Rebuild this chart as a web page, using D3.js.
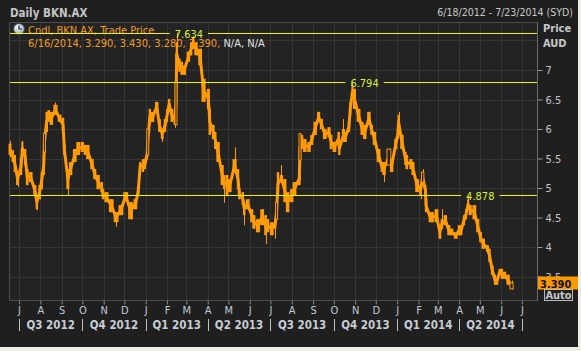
<!DOCTYPE html>
<html>
<head>
<meta charset="utf-8">
<script src="https://cdn.jsdelivr.net/npm/d3@7/dist/d3.min.js"></script>
<style>
  body { margin: 0; background: #efeee6; }
  svg { display: block; }
  text { font-family: "DejaVu Sans Condensed", "DejaVu Sans", sans-serif; }
</style>
</head>
<body>
<div id="chart"></div>
<script>
const dates = ["2012-06-18","2012-06-22","2012-06-25","2012-06-29","2012-07-04","2012-07-06","2012-07-10","2012-07-13","2012-07-18","2012-07-24",
  "2012-07-27","2012-07-31","2012-08-03","2012-08-06","2012-08-07","2012-08-10","2012-08-13","2012-08-17","2012-08-23","2012-08-29",
  "2012-09-03","2012-09-05","2012-09-10","2012-09-14","2012-09-20","2012-09-25","2012-10-01","2012-10-05","2012-10-09","2012-10-15",
  "2012-10-19","2012-10-24","2012-10-29","2012-10-31","2012-11-05","2012-11-12","2012-11-19","2012-11-26","2012-12-03","2012-12-10",
  "2012-12-17","2012-12-21","2012-12-24","2012-12-28","2012-12-31","2013-01-03","2013-01-04","2013-01-07","2013-01-11","2013-01-17",
  "2013-01-21","2013-01-25","2013-01-29","2013-02-01","2013-02-04","2013-02-08","2013-02-12","2013-02-14","2013-02-15","2013-02-19",
  "2013-02-22","2013-02-26","2013-03-04","2013-03-08","2013-03-11","2013-03-15","2013-03-21","2013-03-26","2013-04-02","2013-04-04",
  "2013-04-09","2013-04-12","2013-04-16","2013-04-22","2013-04-25","2013-04-29","2013-05-03","2013-05-10","2013-05-15","2013-05-17",
  "2013-05-22","2013-05-24","2013-05-29","2013-06-04","2013-06-07","2013-06-13","2013-06-19","2013-06-24","2013-06-27","2013-07-03",
  "2013-07-08","2013-07-10","2013-07-12","2013-07-17","2013-07-22","2013-07-26","2013-08-01","2013-08-05","2013-08-12","2013-08-13",
  "2013-08-16","2013-08-20","2013-08-26","2013-08-30","2013-09-04","2013-09-09","2013-09-13","2013-09-18","2013-09-24","2013-09-27",
  "2013-10-02","2013-10-08","2013-10-09","2013-10-15","2013-10-18","2013-10-23","2013-10-25","2013-10-28","2013-10-31","2013-11-06",
  "2013-11-11","2013-11-15","2013-11-21","2013-11-25","2013-11-29","2013-12-05","2013-12-10","2013-12-13","2013-12-20","2013-12-24",
  "2013-12-30","2014-01-02","2014-01-03","2014-01-08","2014-01-13","2014-01-15","2014-01-21","2014-01-24","2014-01-30","2014-02-04",
  "2014-02-07","2014-02-11","2014-02-12","2014-02-18","2014-02-21","2014-02-27","2014-03-04","2014-03-07","2014-03-12","2014-03-17",
  "2014-03-21","2014-03-27","2014-04-01","2014-04-04","2014-04-08","2014-04-11","2014-04-14","2014-04-17","2014-04-23","2014-04-28",
  "2014-05-02","2014-05-06","2014-05-12","2014-05-15","2014-05-19","2014-05-23","2014-05-26","2014-05-30","2014-06-02","2014-06-06",
  "2014-06-11","2014-06-16"];

const opens = [5.75,5.64,5.56,5.27,5.51,5.78,5.66,5.32,5.27,5.05, 4.88,5.05,5.27,5.56,5.61,6.29,6.32,6.29,6.41,6.24,
  6.19,5.73,5.32,5.44,5.66,5.78,5.78,5.73,5.73,5.49, 5.32,5.22,5.10,4.98,4.93,4.81,4.59,4.71,4.93,4.76,
  4.81,4.98,5.44,5.49,5.49,5.66,5.56,6.34,6.29,6.46, 6.17,6.00,6.17,6.34,6.51,6.34,6.24,6.07,7.47,7.19,
  7.14,7.08,7.31,7.47,7.55,7.47,7.36,6.85,6.68,6.34, 6.07,5.95,5.78,5.39,5.22,5.22,5.15,5.49,5.32,4.98,
  4.93,4.76,4.81,4.64,4.54,4.47,4.64,4.54,4.47,4.42, 4.47,4.47,5.27,5.22,5.15,4.93,4.98,5.10,5.27,5.47,
  5.90,5.83,5.78,5.90,6.12,6.29,6.17,6.00,6.03,5.90, 5.78,5.95,5.78,6.00,5.95,6.12,6.46,6.75,6.68,6.34,
  6.12,6.07,6.29,6.07,5.95,5.66,5.44,5.44,5.39,5.49, 5.83,6.00,6.24,5.90,5.61,5.56,5.49,5.44,5.15,5.05,
  5.10,5.05,4.81,4.59,4.59,4.64,4.37,4.47,4.54,4.37, 4.31,4.25,4.37,4.37,4.54,4.64,4.81,4.71,4.71,4.47,
  4.25,4.14,4.03,3.97,3.69,3.53,3.49,3.63,3.63,3.58, 3.53,3.29];

const highs = [5.80,5.64,5.56,5.27,5.51,5.80,5.66,5.32,5.27,5.05, 4.88,5.05,5.27,5.56,5.95,6.29,6.32,6.29,6.45,6.24,
  6.19,5.73,5.32,5.44,5.66,5.78,5.78,5.73,5.73,5.49, 5.32,5.22,5.10,4.98,4.93,4.81,4.59,4.71,4.93,4.76,
  4.81,4.98,5.44,5.49,5.49,5.66,6.00,6.34,6.29,6.46, 6.17,6.00,6.17,6.34,6.51,6.34,6.24,6.80,7.634,7.19,
  7.14,7.08,7.31,7.47,7.58,7.47,7.36,6.85,6.68,6.34, 6.07,5.95,5.78,5.39,5.22,5.22,5.15,5.69,5.32,4.98,
  4.93,4.76,4.81,4.64,4.54,4.47,4.64,4.54,4.47,4.42, 4.47,4.76,5.27,5.39,5.15,4.93,4.98,5.10,5.27,5.92,
  5.90,5.83,5.78,5.90,6.12,6.29,6.17,6.00,6.03,5.90, 5.78,5.95,5.78,6.17,5.95,6.12,6.46,6.794,6.68,6.34,
  6.12,6.07,6.29,6.07,5.95,5.66,5.44,5.44,5.66,5.49, 5.83,6.00,6.29,5.90,5.61,5.56,5.49,5.44,5.15,5.05,
  5.32,5.05,4.81,4.59,4.59,4.64,4.37,4.64,4.54,4.37, 4.31,4.25,4.37,4.37,4.54,4.64,4.878,4.71,4.71,4.47,
  4.25,4.14,4.03,3.97,3.69,3.53,3.49,3.63,3.63,3.58, 3.53,3.43];

const lows = [5.52,5.44,5.27,5.02,5.22,5.56,5.39,5.05,5.10,4.88, 4.62,4.81,4.98,5.22,5.47,5.95,6.12,6.07,6.24,6.12,
  5.95,5.56,4.88,5.22,5.44,5.56,5.61,5.56,5.49,5.32, 5.15,4.98,4.93,4.81,4.76,4.59,4.34,4.54,4.81,4.47,
  4.64,4.88,5.32,5.27,5.32,5.49,5.56,6.07,6.12,6.29, 5.95,5.78,5.95,6.12,6.34,6.12,6.02,6.07,7.08,6.97,
  6.92,6.92,7.14,7.25,7.36,7.25,7.08,6.46,6.34,5.90, 5.83,5.66,5.44,5.05,4.75,4.88,4.93,5.27,4.98,4.81,
  4.71,4.37,4.64,4.42,4.31,4.25,4.37,4.05,4.25,4.20, 4.14,4.47,4.88,5.10,4.76,4.59,4.76,4.88,5.05,5.47,
  5.66,5.61,5.61,5.73,5.90,6.12,6.00,5.83,5.86,5.66, 5.61,5.73,5.56,5.78,5.78,5.95,6.24,6.51,6.34,6.12,
  5.90,5.83,6.07,5.90,5.73,5.44,5.27,5.10,5.39,5.27, 5.66,5.83,6.00,5.66,5.39,5.32,5.32,5.22,4.93,4.81,
  5.10,4.88,4.59,4.42,4.42,4.42,4.14,4.31,4.37,4.20, 4.20,4.14,4.20,4.20,4.37,4.47,4.64,4.54,4.47,4.25,
  4.08,3.97,3.92,3.75,3.53,3.36,3.36,3.53,3.46,3.46, 3.36,3.28];

const closes = [5.56,5.44,5.27,5.05,5.22,5.56,5.39,5.05,5.10,4.88, 4.64,4.81,4.98,5.22,5.93,5.95,6.12,6.07,6.24,6.12,
  5.95,5.56,4.98,5.22,5.44,5.56,5.61,5.56,5.49,5.32, 5.15,4.98,4.93,4.81,4.76,4.59,4.42,4.54,4.81,4.47,
  4.64,4.88,5.32,5.27,5.32,5.49,6.00,6.07,6.12,6.29, 5.95,5.83,5.95,6.12,6.34,6.12,6.07,6.80,7.08,6.97,
  6.92,6.92,7.14,7.25,7.36,7.25,7.08,6.46,6.34,5.90, 5.83,5.66,5.44,5.05,4.98,4.88,4.93,5.27,4.98,4.81,
  4.71,4.54,4.64,4.42,4.31,4.25,4.37,4.20,4.25,4.20, 4.31,4.76,4.88,5.10,4.76,4.59,4.76,4.88,5.05,5.92,
  5.66,5.61,5.61,5.73,5.90,6.12,6.00,5.83,5.86,5.66, 5.61,5.73,5.56,5.78,5.78,5.95,6.24,6.51,6.34,6.12,
  5.90,5.83,6.07,5.90,5.73,5.44,5.27,5.22,5.66,5.27, 5.66,5.83,6.00,5.66,5.39,5.32,5.32,5.22,4.93,4.88,
  5.27,4.88,4.59,4.42,4.42,4.42,4.14,4.31,4.37,4.20, 4.20,4.14,4.20,4.20,4.37,4.47,4.64,4.54,4.47,4.25,
  4.08,3.97,3.92,3.75,3.53,3.36,3.36,3.53,3.46,3.46, 3.36,3.39];

// highest-high markers drawn as horizontal lines
const peakValues = [7.634, 6.794, 4.878];
const peakDates = ["2013-02-15", "2013-10-28", "2014-04-14"];

const yTicks = [3.5, 4, 4.5, 5, 5.5, 6, 6.5, 7];
const gridValues = [3.5, 4, 4.5, 5, 5.5, 6, 6.5, 7, 7.5];

const title = "Daily BKN.AX";
const rangeText = "6/18/2012 - 7/23/2014 (SYD)";
const legendName = "Cndl, BKN.AX, Trade Price";
const legendValues = "6/16/2014, 3.290, 3.430, 3.280, 3.390, ";
const legendNA = "N/A, N/A";

// ---- layout ----
const W = 581, H = 351;
const plot = {left: 10, right: 537, top: 22, bottom: 300};
const orange = "#ff9a0a";

const parse = d3.timeParse("%Y-%m-%d");
const candles = dates.map((d, i) => ({
    date: parse(d), open: opens[i], high: highs[i], low: lows[i], close: closes[i]
}));

const svg = d3.select("#chart").append("svg")
    .attr("width", W)
    .attr("height", H);

// panel
svg.append("rect").attr("width", 578).attr("height", 347).attr("fill", "#1f1f1f");
svg.append("rect")
    .attr("x", plot.left).attr("y", plot.top)
    .attr("width", plot.right - plot.left).attr("height", plot.bottom - plot.top)
    .attr("fill", "#232323");

const x = d3.scaleTime()
    .domain([new Date(2012, 5, 18), new Date(2014, 6, 23)])
    .range([plot.left, plot.right]);

const y = d3.scaleLinear()
    .domain([4, 7])
    .range([247, 70]);

const months = d3.timeMonth.range(new Date(2012, 6, 1), new Date(2014, 6, 2));
const quarters = d3.timeMonth.every(3).range(new Date(2012, 6, 1), new Date(2014, 6, 2));

// grid
const grid = svg.append("g").attr("stroke", "#353535").attr("stroke-width", 1);
grid.selectAll(".vg").data(months).enter().append("line")
    .attr("x1", d => Math.round(x(d)) + 0.5).attr("x2", d => Math.round(x(d)) + 0.5)
    .attr("y1", plot.top).attr("y2", plot.bottom);
grid.selectAll(".hg").data(gridValues).enter().append("line")
    .attr("x1", plot.left).attr("x2", plot.right)
    .attr("y1", d => Math.round(y(d)) + 0.5).attr("y2", d => Math.round(y(d)) + 0.5);

// plot border
svg.append("path")
    .attr("d", `M${plot.left - 0.5},${plot.top + 0.5}H${plot.right + 0.5}V${plot.bottom + 0.5}H${plot.left - 0.5}Z`)
    .attr("fill", "none").attr("stroke", "#4c4c4c");

// header
svg.append("text").attr("x", 10).attr("y", 17)
    .attr("font-size", 11.5).attr("font-weight", "bold").attr("fill", "#c4c4c4")
    .text(title);
svg.append("text").attr("x", 573).attr("y", 16).attr("text-anchor", "end")
    .attr("font-size", 10.5).attr("fill", "#c8c8c8")
    .text(rangeText);

// legend (behind candles)
const clock = svg.append("g").attr("transform", "translate(19,29)");
const grad = svg.append("defs").append("radialGradient").attr("id", "clk")
    .attr("cx", "40%").attr("cy", "35%").attr("r", "70%");
grad.append("stop").attr("offset", "0%").attr("stop-color", "#ffffff");
grad.append("stop").attr("offset", "100%").attr("stop-color", "#8da2b8");
clock.append("circle").attr("r", 5.5).attr("fill", "url(#clk)").attr("stroke", "#3a4350");
clock.append("path").attr("d", "M0,-3.5V0H3").attr("stroke", "#222").attr("stroke-width", 1.2).attr("fill", "none");

svg.append("text").attr("x", 28).attr("y", 34)
    .attr("font-size", 11).attr("fill", "#f29a26")
    .text(legendName);
const lg2 = svg.append("text").attr("x", 28).attr("y", 47).attr("font-size", 11);
lg2.append("tspan").attr("fill", "#f29a26").text(legendValues);
lg2.append("tspan").attr("fill", "#e2e2e2").text(legendNA);

// candles
const xs = candles.map(d => x(d.date));
candles.forEach((d, i) => {
    const prev = i > 0 ? xs[i - 1] : xs[i] - 3;
    const next = i < xs.length - 1 ? xs[i + 1] : xs[i] + 3;
    d.w = Math.max(2, Math.min(5, (next - prev) / 2));
});

const cg = svg.append("g");

// the daily candles overlap into a continuous band: trace it through the bodies
cg.append("path")
    .datum(candles)
    .attr("fill", "none")
    .attr("stroke", orange)
    .attr("stroke-width", 3)
    .attr("stroke-linejoin", "round")
    .attr("d", d3.line().x(d => x(d.date)).y(d => y((d.open + d.close) / 2)));

cg.selectAll(".wick").data(candles).enter().append("line")
    .attr("x1", d => Math.round(x(d.date)) + 0.5).attr("x2", d => Math.round(x(d.date)) + 0.5)
    .attr("y1", d => y(d.high)).attr("y2", d => y(d.low))
    .attr("stroke", orange).attr("stroke-width", 1);

cg.selectAll(".body").data(candles).enter().append("rect")
    .attr("x", d => x(d.date) - d.w / 2)
    .attr("y", d => y(Math.max(d.open, d.close)))
    .attr("width", d => d.w)
    .attr("height", d => Math.max(1, Math.abs(y(d.open) - y(d.close))))
    .attr("fill", d => d.close > d.open ? "#232323" : orange)
    .attr("stroke", d => d.close > d.open ? orange : "none")
    .attr("stroke-width", 1);

// peak lines with labels
const peaks = peakValues.map((v, i) => ({value: v, date: parse(peakDates[i])}));
const pg = svg.append("g");
peaks.forEach(p => {
    const yy = Math.round(y(p.value)) + 0.5;
    const t = pg.append("text")
        .attr("x", x(p.date) - 2).attr("y", yy + 4.5)
        .attr("font-size", 11).attr("fill", "#d8ee3c")
        .text(p.value.toFixed(3));
    const len = t.node().getComputedTextLength();
    const gx0 = x(p.date) - 7, gx1 = x(p.date) - 2 + len + 5;
    pg.append("line").attr("x1", plot.left).attr("x2", gx0).attr("y1", yy).attr("y2", yy)
        .attr("stroke", "#f2f200");
    pg.append("line").attr("x1", gx1).attr("x2", plot.right).attr("y1", yy).attr("y2", yy)
        .attr("stroke", "#f2f200");
});

// right axis
const yAxis = svg.append("g")
    .attr("transform", `translate(${plot.right + 0.5},0)`)
    .call(d3.axisRight(y).tickValues(yTicks).tickSize(5).tickPadding(3).tickFormat(d => d));
yAxis.select(".domain").remove();
yAxis.selectAll(".tick line").attr("stroke", "#9a9a9a");
yAxis.selectAll(".tick text").attr("font-size", 11).attr("fill", "#c4c4c4")
    .attr("font-family", "DejaVu Sans Condensed, DejaVu Sans, sans-serif");
svg.append("line").attr("x1", plot.right + 0.5).attr("x2", plot.right + 0.5)
    .attr("y1", plot.top).attr("y2", plot.bottom + 1).attr("stroke", "#6a6a6a");

svg.append("text").attr("x", 543).attr("y", 32).attr("font-size", 11)
    .attr("font-weight", "bold").attr("fill", "#c8c8c8").text("Price");
svg.append("text").attr("x", 543).attr("y", 47).attr("font-size", 11)
    .attr("font-weight", "bold").attr("fill", "#c8c8c8").text("AUD");

// last value box
const last = candles[candles.length - 1];
const ly = y(last.close);
svg.append("rect").attr("x", plot.right + 1).attr("y", Math.round(ly) - 6.5)
    .attr("width", 40).attr("height", 13).attr("fill", "#ff9900");
svg.append("text").attr("x", 540).attr("y", Math.round(ly) + 4.5)
    .attr("font-size", 11).attr("font-weight", "bold").attr("fill", "#111")
    .text(last.close.toFixed(3));
svg.append("rect").attr("x", 544.5).attr("y", 289.5).attr("width", 28).attr("height", 11)
    .attr("fill", "#222").attr("stroke", "#b8b8b8");
svg.append("text").attr("x", 558.5).attr("y", 299).attr("text-anchor", "middle")
    .attr("font-size", 11).attr("font-weight", "bold").attr("fill", "#c8c8c8").text("Auto");

// bottom month axis
const xAxis = svg.append("g")
    .attr("transform", `translate(0,${plot.bottom + 0.5})`)
    .call(d3.axisBottom(x).tickValues(months).tickSize(4).tickPadding(2)
        .tickFormat(d => d3.timeFormat("%B")(d)[0]));
xAxis.select(".domain").remove();
xAxis.selectAll(".tick line").attr("stroke", "#8a8a8a");
xAxis.selectAll(".tick text").attr("font-size", 11).attr("fill", "#bfcad6")
    .attr("font-family", "DejaVu Sans Condensed, DejaVu Sans, sans-serif");

// quarter labels
const qg = svg.append("g");
qg.selectAll(".qsep").data(quarters).enter().append("line")
    .attr("x1", d => Math.round(x(d)) + 0.5).attr("x2", d => Math.round(x(d)) + 0.5)
    .attr("y1", 319).attr("y2", 331).attr("stroke", "#c0c0c0");
qg.selectAll(".qlab").data(quarters.slice(0, -1)).enter().append("text")
    .attr("x", d => (x(d) + x(d3.timeMonth.offset(d, 3))) / 2)
    .attr("y", 329).attr("text-anchor", "middle")
    .attr("font-size", 11.5).attr("font-weight", "bold").attr("fill", "#c6ccd4")
    .text(d => "Q" + (Math.floor(d.getMonth() / 3) + 1) + " " + d.getFullYear());
</script>
</body>
</html>
